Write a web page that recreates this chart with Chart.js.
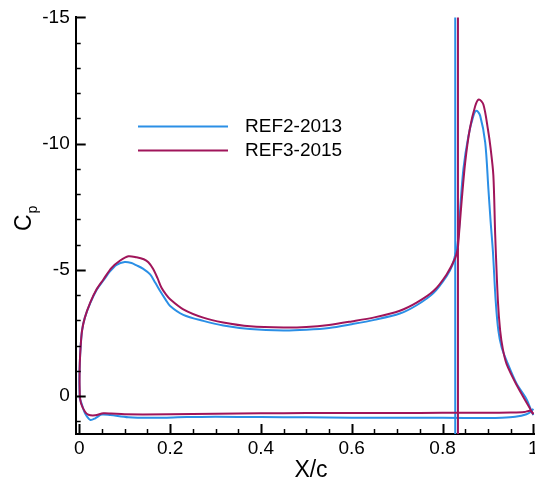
<!DOCTYPE html>
<html>
<head>
<meta charset="utf-8">
<script src="https://cdn.jsdelivr.net/npm/chart.js@4.4.1/dist/chart.umd.min.js"></script>
<style>
  html, body { margin: 0; padding: 0; overflow: hidden; background: #fff; }
  canvas { display: block; }
</style>
</head>
<body>
<canvas id="cp" width="560" height="485"></canvas>
<script>
// Series names and colours
const seriesNames = ['REF2-2013', 'REF3-2015'];
const seriesColors = ['#2b8fe6', '#a0155a'];

// REF2-2013: main element lower surface (leading edge -> trailing edge)
const ref2LowerX  = [0.001, 0.005, 0.0125, 0.024, 0.035, 0.049, 0.068, 0.108, 0.163, 0.237, 0.3, 0.4, 0.5, 0.6, 0.7, 0.8, 0.9, 0.93, 0.96, 0.985, 0.996, 1.0];
const ref2LowerCp = [0.1, 0.3, 0.68, 0.94, 0.88, 0.73, 0.75, 0.84, 0.86, 0.83, 0.82, 0.83, 0.84, 0.86, 0.86, 0.86, 0.87, 0.86, 0.82, 0.72, 0.6, 0.5];
// REF2-2013: main element upper surface
const ref2UpperX  = [0.001, 0.0, 0.001, 0.003, 0.006, 0.012, 0.024, 0.038, 0.053, 0.068, 0.082, 0.1, 0.115, 0.126, 0.14, 0.156, 0.167, 0.178, 0.19, 0.2, 0.229, 0.273, 0.317, 0.376, 0.45, 0.5, 0.55, 0.6, 0.65, 0.706, 0.743, 0.78, 0.809, 0.822, 0.828];
const ref2UpperCp = [0.1, -0.6, -1.3, -2.0, -2.6, -3.1, -3.68, -4.2, -4.58, -4.95, -5.2, -5.31, -5.27, -5.18, -5.05, -4.82, -4.5, -4.16, -3.82, -3.57, -3.22, -2.98, -2.8, -2.66, -2.6, -2.63, -2.7, -2.85, -3.02, -3.27, -3.6, -4.08, -4.75, -5.2, -5.6];
// REF2-2013: gap line
const ref2GapX  = [0.828, 0.828];
const ref2GapCp = [2, -16];
// REF2-2013: flap upper surface
const ref2FlapX  = [0.828, 0.832, 0.836, 0.839, 0.846, 0.857, 0.868, 0.875, 0.883, 0.894, 0.901, 0.906, 0.911, 0.917, 0.923, 0.93, 0.941, 0.963, 0.985, 0.996, 1.0];
const ref2FlapCp = [-5.6, -5.9, -6.5, -7.43, -9.0, -10.3, -11.1, -11.3, -11.1, -10.05, -8.22, -6.9, -5.73, -3.8, -2.59, -1.95, -1.41, -0.5, 0.12, 0.6, 0.75];

// REF3-2015: main element lower surface
const ref3LowerX  = [0.001, 0.004, 0.0125, 0.02, 0.035, 0.053, 0.07, 0.1, 0.2, 0.3, 0.4, 0.5, 0.6, 0.7, 0.8, 0.9, 0.95, 0.98, 0.993, 1.0];
const ref3LowerCp = [0.0, 0.3, 0.62, 0.74, 0.76, 0.68, 0.69, 0.72, 0.72, 0.7, 0.68, 0.67, 0.67, 0.67, 0.66, 0.66, 0.65, 0.63, 0.58, 0.7];
// REF3-2015: main element upper surface
const ref3UpperX  = [0.001, 0.0005, 0.001, 0.003, 0.006, 0.012, 0.024, 0.038, 0.053, 0.071, 0.09, 0.108, 0.126, 0.142, 0.152, 0.162, 0.172, 0.181, 0.19, 0.2, 0.229, 0.273, 0.317, 0.376, 0.45, 0.5, 0.55, 0.6, 0.65, 0.706, 0.743, 0.78, 0.809, 0.828, 0.834];
const ref3UpperCp = [0.0, -0.6, -1.3, -2.0, -2.6, -3.1, -3.7, -4.23, -4.62, -5.08, -5.37, -5.54, -5.5, -5.42, -5.3, -5.05, -4.68, -4.29, -4.05, -3.84, -3.44, -3.11, -2.92, -2.77, -2.72, -2.74, -2.82, -2.96, -3.12, -3.38, -3.7, -4.16, -4.82, -5.47, -5.86];
// REF3-2015: gap line
const ref3GapX  = [0.834, 0.834];
const ref3GapCp = [2, -16];
// REF3-2015: flap upper surface
const ref3FlapX  = [0.834, 0.838, 0.842, 0.85, 0.86, 0.872, 0.88, 0.89, 0.9, 0.906, 0.912, 0.916, 0.922, 0.927, 0.933, 0.941, 0.963, 0.985, 0.996, 1.0];
const ref3FlapCp = [-5.9, -6.8, -7.7, -9.27, -10.57, -11.49, -11.75, -11.55, -10.57, -9.8, -8.74, -6.4, -3.77, -2.59, -1.85, -1.28, -0.45, 0.25, 0.6, 0.72];

// Axis ticks
const xTickValues = [0, 0.2, 0.4, 0.6, 0.8, 1];
const yTickValues = [-15, -10, -5, 0];

const FONT = "'Liberation Sans', Arial, Helvetica, sans-serif";

function pts(xs, ys) { return xs.map((x, i) => ({ x: x, y: ys[i] })); }
function surface(lx, lc, ux, uc) { return pts(lx, lc).reverse().concat(pts(ux, uc)); }

const groups = [
  { label: seriesNames[0], color: seriesColors[0], order: 1,
    parts: [surface(ref2LowerX, ref2LowerCp, ref2UpperX, ref2UpperCp), pts(ref2GapX, ref2GapCp), pts(ref2FlapX, ref2FlapCp)] },
  { label: seriesNames[1], color: seriesColors[1], order: 0,
    parts: [surface(ref3LowerX, ref3LowerCp, ref3UpperX, ref3UpperCp), pts(ref3GapX, ref3GapCp), pts(ref3FlapX, ref3FlapCp)] }
];

const datasets = [];
groups.forEach(g => g.parts.forEach(data => datasets.push({
  label: g.label, data: data, borderColor: g.color, backgroundColor: g.color,
  borderWidth: 2, showLine: true, pointRadius: 0, tension: 0.3, fill: false, order: g.order
})));

// Inward tick marks, axis titles and in-plot legend
const decor = {
  id: 'decor',
  afterDraw(chart) {
    const { ctx, chartArea: a, scales: { x, y } } = chart;
    ctx.save();
    ctx.strokeStyle = '#000';
    for (let i = 0; i <= 20; i++) {
      const v = i * 0.05, major = i % 4 === 0;
      const px = Math.round(x.getPixelForValue(v)) + 0.5;
      ctx.lineWidth = major ? 2 : 1.5;
      ctx.beginPath(); ctx.moveTo(px, a.bottom); ctx.lineTo(px, a.bottom - (major ? 10 : 5)); ctx.stroke();
    }
    for (let v = -15; v <= 1; v++) {
      const major = v % 5 === 0;
      const py = Math.round(y.getPixelForValue(v)) + 0.5;
      ctx.lineWidth = major ? 2 : 1.5;
      ctx.beginPath(); ctx.moveTo(a.left, py); ctx.lineTo(a.left + (major ? 10 : 5), py); ctx.stroke();
    }

    ctx.fillStyle = '#000';
    // X axis title
    ctx.font = '23px ' + FONT;
    ctx.textAlign = 'center'; ctx.textBaseline = 'alphabetic';
    ctx.fillText('X/c', 311, 477);
    // Y axis title, C with subscript p
    ctx.save();
    ctx.translate(31, 231);
    ctx.rotate(-Math.PI / 2);
    ctx.textAlign = 'left';
    ctx.font = '23px ' + FONT;
    ctx.fillText('C', 0, 0);
    const w = ctx.measureText('C').width;
    ctx.font = '14px ' + FONT;
    ctx.fillText('p', w + 1, 6);
    ctx.restore();

    // Legend
    ctx.font = '19px ' + FONT;
    ctx.textAlign = 'left'; ctx.textBaseline = 'middle';
    const rows = [126.5, 150.5];
    groups.forEach((g, i) => {
      ctx.strokeStyle = g.color; ctx.lineWidth = 2;
      ctx.beginPath(); ctx.moveTo(138, rows[i]); ctx.lineTo(228, rows[i]); ctx.stroke();
      ctx.fillText(g.label, 245, rows[i] + 0.5);
    });
    ctx.restore();
  }
};

Chart.defaults.font.family = FONT;
Chart.defaults.font.size = 19;
Chart.defaults.color = '#000';

new Chart(document.getElementById('cp'), {
  type: 'scatter',
  data: { datasets: datasets },
  options: {
    responsive: false,
    animation: false,
    devicePixelRatio: 1,
    layout: { padding: { top: 14, right: 17.6, left: 0, bottom: 0 } },
    plugins: { legend: { display: false }, tooltip: { enabled: false } },
    scales: {
      x: {
        type: 'linear', min: -0.008, max: 1.02,
        grid: { display: false, drawTicks: false },
        border: { display: true, color: '#000', width: 2 },
        afterBuildTicks: s => { s.ticks = xTickValues.map(v => ({ value: v })); },
        afterFit: s => { s.height = 51; },
        ticks: { padding: 3, maxRotation: 0, autoSkip: false, callback: v => String(v) }
      },
      y: {
        type: 'linear', min: -15, max: 1.5, reverse: true,
        grid: { display: false, drawTicks: false },
        border: { display: true, color: '#000', width: 2 },
        afterBuildTicks: s => { s.ticks = yTickValues.map(v => ({ value: v })); },
        afterFit: s => { s.width = 75.7; },
        ticks: { padding: 6, autoSkip: false, callback: v => String(v) }
      }
    }
  },
  plugins: [decor]
});
</script>
</body>
</html>
